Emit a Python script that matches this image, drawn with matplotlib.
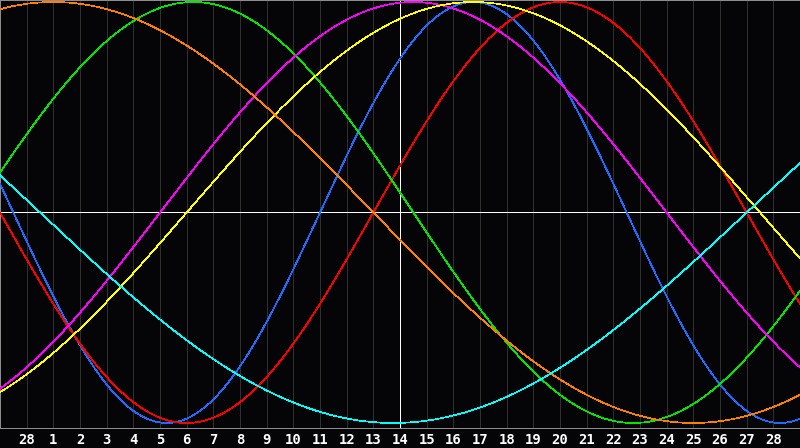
import matplotlib
matplotlib.use("Agg")
import matplotlib.pyplot as plt
import numpy as np

# biorhythm cycles: length in days and day-of-cycle at the left edge of the chart
CYCLE_DAYS = [23, 28, 33, 38, 43, 48, 53]
START_DAY = [11, 14, 1, 32, 36, 10, 25]
CYCLE_COLORS = ['#1e6cff', '#ff0000', '#00e800', '#ff00ff', '#ffff00', '#ff8000', '#00ffff']

DAY_LABELS = ['28'] + [str(d) for d in range(1, 29)]
TODAY_POS = 15
WINDOW_DAYS = 30

BG = '#050508'
GRID = '#303030'
FRAME = '#8c8c8c'


def build_chart():
    fig = plt.figure(figsize=(8, 4.48), dpi=100, facecolor=BG)
    ax = fig.add_axes([0, 20 / 448, 1, 428 / 448])
    ax.set_facecolor(BG)

    lw = 0.5
    x = np.linspace(0, WINDOW_DAYS, 1601)

    ticks = np.arange(1, len(DAY_LABELS) + 1)
    for t in ticks:
        ax.axvline(t, color=GRID, lw=lw, antialiased=False, zorder=1)
    ax.axhline(0, color='white', lw=lw, antialiased=False, zorder=2)
    ax.axvline(TODAY_POS, color='white', lw=lw, antialiased=False, zorder=2)

    for period, start, color in zip(CYCLE_DAYS, START_DAY, CYCLE_COLORS):
        y = np.sin(2 * np.pi * (start + x) / period)
        ax.plot(x, y, color=color, lw=lw, antialiased=False, zorder=3)

    ax.set_xlim(0, WINDOW_DAYS)
    ax.set_ylim(-1.0238, 1.0095)
    ax.set_yticks([])
    ax.set_xticks(ticks)
    ax.set_xticklabels(DAY_LABELS, color='white', fontsize=10,
                       fontweight='bold', family='DejaVu Sans Mono')
    ax.tick_params(axis='x', length=0, pad=3.5)
    for side in ax.spines.values():
        side.set_color(FRAME)
        side.set_linewidth(0.72)

    fig.savefig('out.png', dpi=100, facecolor=BG)


if __name__ == '__main__':
    build_chart()
